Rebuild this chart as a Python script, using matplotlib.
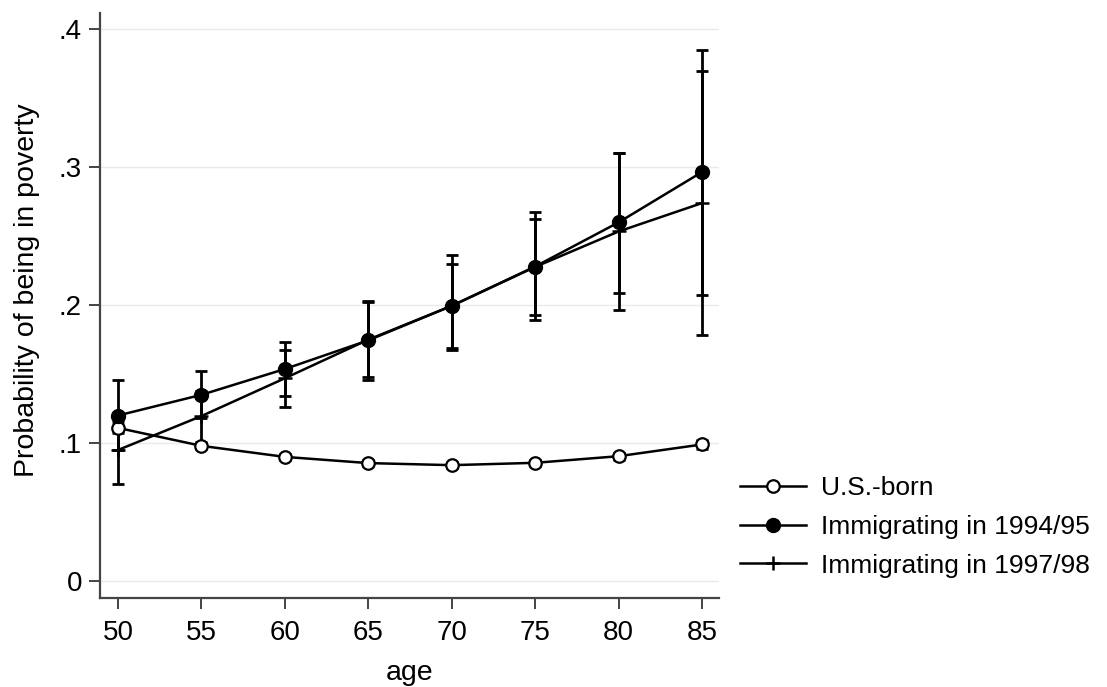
import numpy as np
import matplotlib
matplotlib.use("Agg")
import matplotlib.pyplot as plt

plt.rcParams['font.family'] = ['Liberation Sans', 'DejaVu Sans']

# data
ages = [50, 55, 60, 65, 70, 75, 80, 85]

us = [0.111, 0.098, 0.090, 0.0855, 0.084, 0.0857, 0.0905, 0.099]
us_lo = [0.107, 0.096, 0.088, 0.0835, 0.082, 0.0835, 0.088, 0.0955]
us_hi = [0.115, 0.100, 0.092, 0.0875, 0.086, 0.0879, 0.093, 0.1025]

im94 = [0.120, 0.135, 0.1537, 0.1745, 0.1995, 0.228, 0.260, 0.2965]
im94_lo = [0.095, 0.118, 0.134, 0.1455, 0.1675, 0.1895, 0.209, 0.2075]
im94_hi = [0.1455, 0.152, 0.1733, 0.203, 0.2362, 0.2678, 0.3106, 0.385]

im97 = [0.095, 0.1196, 0.147, 0.175, 0.1995, 0.2277, 0.2534, 0.274]
im97_lo = [0.0705, 0.101, 0.1259, 0.148, 0.169, 0.1927, 0.1963, 0.1787]
im97_hi = [0.119, 0.138, 0.1673, 0.202, 0.230, 0.2627, 0.310, 0.3694]

yticks = [0, 0.1, 0.2, 0.3, 0.4]
ytick_labels = ['0', '.1', '.2', '.3', '.4']


def err(mid, lo, hi):
    mid = np.array(mid)
    return [mid - np.array(lo), np.array(hi) - mid]


fig = plt.figure(figsize=(11.07, 6.87), dpi=100)
ax = fig.add_axes([100 / 1107, 1 - 598 / 687, 619 / 1107, 585 / 687])

lw = 1.8
# error bars
ax.errorbar(ages, us, yerr=err(us, us_lo, us_hi), fmt='none', ecolor='black',
            elinewidth=1.8, capsize=4, capthick=1.8, zorder=2)
ax.errorbar(ages, im94, yerr=err(im94, im94_lo, im94_hi), fmt='none', ecolor='black',
            elinewidth=2.0, capsize=4.5, capthick=2.0, zorder=2)
ax.errorbar(ages, im97, yerr=err(im97, im97_lo, im97_hi), fmt='none', ecolor='black',
            elinewidth=2.0, capsize=4.5, capthick=2.0, zorder=2)

# lines
ax.plot(ages, us, color='black', lw=lw, marker='o', markersize=9,
        markerfacecolor='white', markeredgecolor='black', markeredgewidth=1.6,
        label='U.S.-born', zorder=3)
ax.plot(ages, im94, color='black', lw=lw, marker='o', markersize=10,
        markerfacecolor='black', markeredgecolor='black',
        label='Immigrating in 1994/95', zorder=4)
ax.plot(ages, im97, color='black', lw=lw, marker='+', markersize=10,
        markeredgewidth=1.8, label='Immigrating in 1997/98', zorder=3)

ax.set_xlim(48.92, 86.02)
ax.set_ylim(-0.0123, 0.4118)
ax.set_xticks(ages)
ax.set_yticks(yticks)
ax.set_yticklabels(ytick_labels)

ax.grid(axis='y', color='#eaeaea', lw=1.0, zorder=0)
ax.set_axisbelow(True)

for s in ['top', 'right']:
    ax.spines[s].set_visible(False)
for s in ['left', 'bottom']:
    ax.spines[s].set_color('#444444')
    ax.spines[s].set_linewidth(1.6)

ax.tick_params(axis='both', direction='out', length=8, width=1.4, color='#444444',
               labelsize=20)
ax.tick_params(axis='x', pad=8)
ax.tick_params(axis='y', pad=5)

ax.set_xlabel('age', fontsize=20.5, labelpad=10)
ax.set_ylabel('Probability of being in poverty', fontsize=20.5)
ax.yaxis.set_label_coords(-0.097, 0.527)

fig.legend(loc='center left', bbox_to_anchor=(729 / 1107, 1 - 527 / 687),
           frameon=False, fontsize=19, handlelength=2.5, handletextpad=0.6,
           labelspacing=0.55, borderaxespad=0)

fig.savefig('out.png', dpi=100)
